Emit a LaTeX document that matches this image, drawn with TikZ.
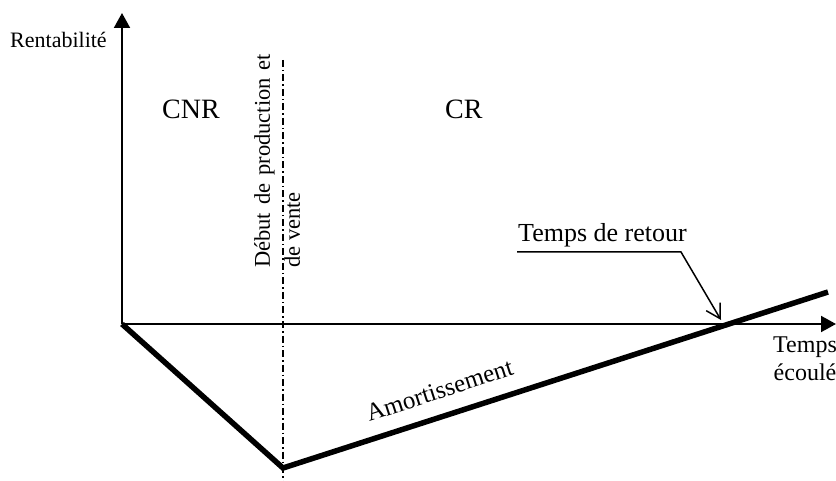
\documentclass[tikz,border=0pt]{standalone}
\usepackage{fontspec}
\setmainfont{Liberation Serif}
\usetikzlibrary{arrows.meta}
\begin{document}
\begin{tikzpicture}[x=1pt,y=-1pt,
  axis/.style={line width=2pt,-{Triangle[length=15pt,width=16pt]}},
  curve/.style={line width=5.5pt,line join=miter},
  pointer/.style={line width=1.5pt,-{Straight Barb[length=14pt,width=16pt,line width=1.5pt]}},
  dashdot/.style={line width=1.5pt,dash pattern=on 7pt off 3pt on 1.5pt off 3pt},
  lbl/.style={inner sep=0pt,font=\fontsize{22}{28}\selectfont},
  biglbl/.style={inner sep=0pt,font=\fontsize{26}{30}\selectfont}]
\useasboundingbox (0,0) rectangle (836,481);
\coordinate (O) at (122,324);
\coordinate (Ytop) at (122,13);
\coordinate (Xend) at (836,324);
\coordinate (D1) at (283,60);
\coordinate (D2) at (283,481);
\coordinate (V) at (283,468);
\coordinate (E) at (828,292);
\coordinate (P1) at (517,252);
\coordinate (P2) at (681,252);
\coordinate (P3) at (721,320);
\draw[dashdot] (D1) -- (D2);
\draw[axis] (O) -- (Ytop);
\draw[axis] (O) -- (Xend);
\draw[curve] (O) -- (V) -- (E);
\draw[pointer] (P1) -- (P2) -- (P3);
\node[lbl,anchor=base west] (rent) at (10,48) {Rentabilité};
\node[biglbl,anchor=base west,font=\fontsize{28}{32}\selectfont] (cnr) at (162,119) {CNR};
\node[biglbl,anchor=base west,font=\fontsize{28}{32}\selectfont] (cr) at (445,119) {CR};
\node[biglbl,anchor=base west] (tr) at (518,242) {Temps de retour};
\node[lbl,anchor=north west,align=center,font=\fontsize{24}{28}\selectfont] (te) at (773,337) {Temps\\écoulé};
\node[biglbl,anchor=base,rotate=18,font=\fontsize{25}{30}\selectfont] (am) at (442,398) {Amortissement};
\node[inner sep=0pt,anchor=north west,rotate=90,align=left,font=\fontsize{22.5}{30}\selectfont] (deb) at (254,268)
  {\makebox[214pt][s]{Début de production et}\\de vente};
\end{tikzpicture}
\end{document}
